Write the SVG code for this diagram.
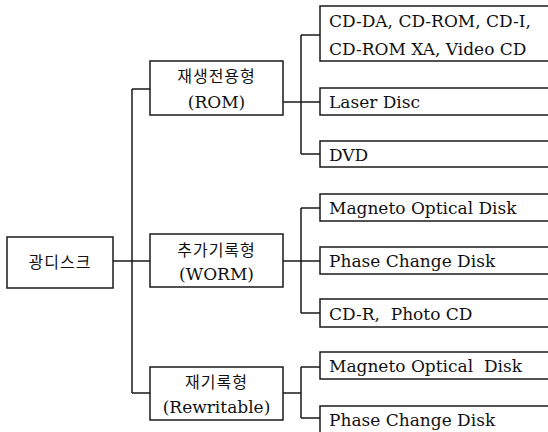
<svg xmlns="http://www.w3.org/2000/svg" width="548" height="432" viewBox="0 0 548 432">
<style>
rect{fill:#fff;stroke:#1a1a1a;stroke-width:1.5}
.c path{fill:none;stroke:#1a1a1a;stroke-width:1.5}
text{font-family:"DejaVu Serif",serif;font-size:17px;fill:#111;white-space:pre}
.k{font-family:"Noto Sans CJK KR",sans-serif;font-size:16px;letter-spacing:1px}
.m{text-anchor:middle}
</style>
<rect x="0" y="0" width="548" height="432" style="stroke:none"/>
<g class="c">
<path d="M113 261H150M132 89V393M132 89H150M132 393H150"/>
<path d="M283 102H320M301 35V154M301 35H320M301 154H320"/>
<path d="M283 261H320M301 208V313M301 208H320M301 313H320"/>
<path d="M283 393H301M301 367V418M301 367H320M301 418H320"/>
</g>
<g id="root"><rect x="7" y="237" width="106" height="51"/><text class="k m" x="60" y="268">광디스크</text></g>
<g id="rom"><rect x="150" y="61" width="133" height="54"/><text class="k m" x="216.5" y="82">재생전용형</text><text class="m" x="216.5" y="108">(ROM)</text></g>
<g id="worm"><rect x="150" y="234" width="133" height="53"/><text class="k m" x="216.5" y="256">추가기록형</text><text class="m" x="216.5" y="280">(WORM)</text></g>
<g id="rw"><rect x="150" y="367" width="133" height="53"/><text class="k m" x="216.5" y="388">재기록형</text><text class="m" x="216.5" y="413">(Rewritable)</text></g>
<g id="cd"><rect x="320" y="6" width="240" height="55"/><text x="329" y="27">CD-DA, CD-ROM, CD-I,</text><text x="329" y="55">CD-ROM XA, Video CD</text></g>
<g id="ld"><rect x="320" y="88" width="240" height="27"/><text x="329" y="108">Laser Disc</text></g>
<g id="dvd"><rect x="320" y="141" width="240" height="26"/><text x="329" y="161">DVD</text></g>
<g id="mo1"><rect x="320" y="194" width="240" height="27"/><text x="329" y="214">Magneto Optical Disk</text></g>
<g id="pc1"><rect x="320" y="247" width="240" height="27"/><text x="329" y="267">Phase Change Disk</text></g>
<g id="cdr"><rect x="320" y="299" width="240" height="28"/><text x="329" y="320">CD-R,  Photo CD</text></g>
<g id="mo2"><rect x="320" y="352" width="240" height="27"/><text x="329" y="372">Magneto Optical  Disk</text></g>
<g id="pc2"><rect x="320" y="406" width="240" height="40"/><text x="329" y="426">Phase Change Disk</text></g>
</svg>
